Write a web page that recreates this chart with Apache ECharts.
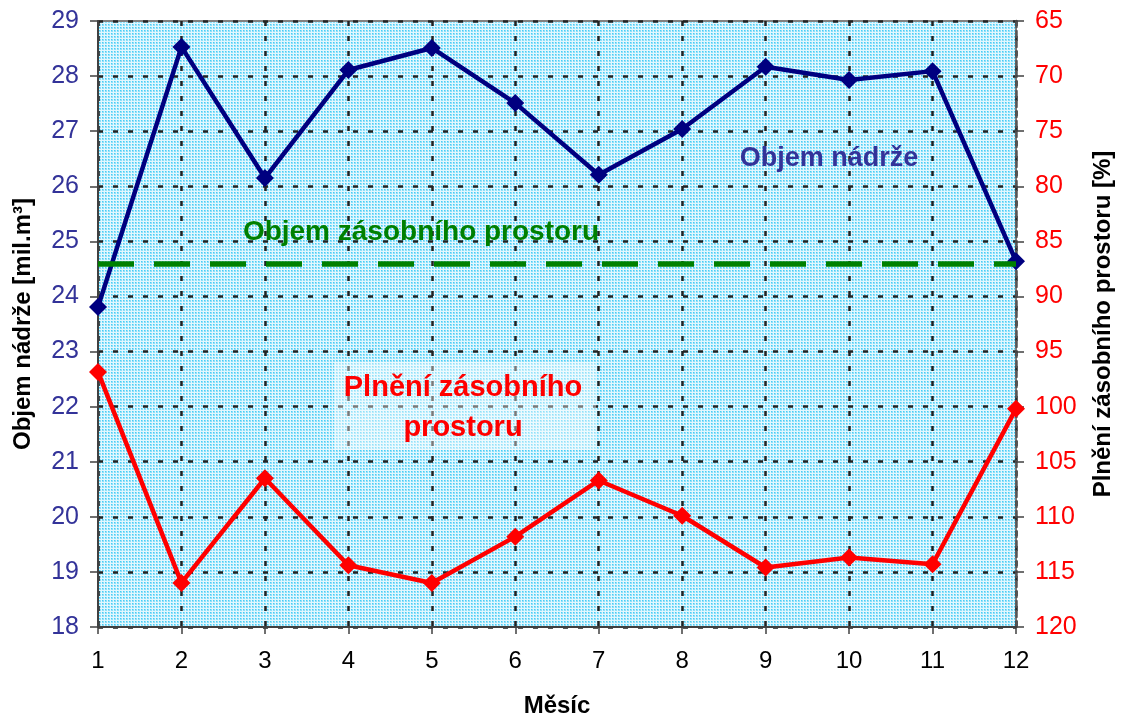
<!DOCTYPE html>
<html><head><meta charset="utf-8">
<script src="https://cdn.jsdelivr.net/npm/echarts@6/dist/echarts.min.js"></script>
<style>html,body{margin:0;padding:0;background:#fff}#c{width:1125px;height:719px}</style>
</head><body><div id="c"></div>
<script>
const months = [1,2,3,4,5,6,7,8,9,10,11,12];
const objemNadrze = [23.81,28.53,26.15,28.11,28.51,27.51,26.21,27.04,28.17,27.93,28.09,24.64];
const plneni = [96.85,116.0,106.5,114.4,116.0,111.8,106.7,109.9,114.6,113.7,114.3,100.2];
const objemZasobnihoProstoru = 24.6;
const leftTicks = {min:18, max:29, interval:1};
const rightTicks = {min:65, max:120, interval:5};

const pc = document.createElement('canvas');
pc.width = 3; pc.height = 3;
const g = pc.getContext('2d');
g.fillStyle = '#e2f7fe'; g.fillRect(0,0,3,3);
g.fillStyle = '#8fdff8';
g.fillRect(0,0,2,2);
g.fillStyle = '#45cdf7';
g.fillRect(0,0,1,1);

const FONT = 'Liberation Sans, Arial, sans-serif';
const chart = echarts.init(document.getElementById('c'), null, {renderer:'canvas'});
const gridLine = {show:true, lineStyle:{color:'#222', width:2.5, type:[5,10]}};
chart.setOption({
  animation:false,
  grid:{left:98, right:109, top:21, bottom:92, outerBoundsMode:'none', containLabel:false, show:true, backgroundColor:{image:pc, repeat:'repeat'}, borderColor:'#808080', borderWidth:2},
  xAxis:{type:'value', min:1, max:12, interval:1,
    name:'Měsíc', nameLocation:'middle', nameGap:67,
    nameTextStyle:{fontFamily:FONT, fontWeight:'bold', fontSize:24, color:'#000'},
    axisLine:{lineStyle:{color:'#404040', width:2}},
    axisTick:{show:true, length:7, lineStyle:{color:'#404040', width:1.5}},
    axisLabel:{fontFamily:FONT, fontSize:24, color:'#000', margin:22},
    splitLine:gridLine},
  yAxis:[
    {type:'value', position:'left', min:leftTicks.min, max:leftTicks.max, interval:leftTicks.interval,
      name:'Objem nádrže [mil.m³]', nameLocation:'middle', nameGap:63, nameRotate:90,
      nameTextStyle:{fontFamily:FONT, fontWeight:'bold', fontSize:24, color:'#000'},
      axisLine:{show:true, lineStyle:{color:'#404040', width:2}},
      axisTick:{show:true, length:8, lineStyle:{color:'#404040', width:1.5}},
      axisLabel:{fontFamily:FONT, fontSize:25, color:'#333399', margin:19},
      splitLine:gridLine},
    {type:'value', position:'right', inverse:true, min:rightTicks.min, max:rightTicks.max, interval:rightTicks.interval,
      name:'Plnění zásobního prostoru [%]', nameLocation:'middle', nameGap:75, nameRotate:90,
      nameTextStyle:{fontFamily:FONT, fontWeight:'bold', fontSize:24, color:'#000'},
      axisLine:{show:true, lineStyle:{color:'#555', width:2.5, type:[6,4]}},
      axisTick:{show:true, length:8, lineStyle:{color:'#404040', width:1.5}},
      axisLabel:{fontFamily:FONT, fontSize:25, color:'#ff0000', margin:19},
      splitLine:{show:false}}
  ],
  series:[
    {type:'line', yAxisIndex:0, data:months.map((m,i)=>[m,objemNadrze[i]]),
      symbol:'diamond', symbolSize:18, lineStyle:{color:'#000080', width:4.5}, itemStyle:{color:'#000080'},
      markLine:{silent:true, symbol:'none', label:{show:false},
        lineStyle:{color:'#008000', width:5.5, type:[36,20]},
        data:[{yAxis:objemZasobnihoProstoru}]}},
    {type:'line', yAxisIndex:1, data:months.map((m,i)=>[m,plneni[i]]),
      symbol:'diamond', symbolSize:18, lineStyle:{color:'#ff0000', width:4.5}, itemStyle:{color:'#ff0000'}}
  ],
  graphic:[
    {type:'rect', x:334, y:362, shape:{width:262, height:88}, style:{fill:'rgba(255,255,255,0.4)'}, z:5},
    {type:'text', style:{text:'Plnění zásobního', textAlign:'center', textVerticalAlign:'middle', fill:'#ff0000', font:'bold 29px '+FONT}, x:463, y:388, z:6},
    {type:'text', style:{text:'prostoru', textAlign:'center', textVerticalAlign:'middle', fill:'#ff0000', font:'bold 29px '+FONT}, x:463, y:428, z:6},
    {type:'text', style:{text:'Objem zásobního prostoru', textAlign:'center', textVerticalAlign:'middle', fill:'#008000', font:'bold 28px '+FONT}, x:421, y:232, z:6},
    {type:'text', style:{text:'Objem nádrže', textAlign:'center', textVerticalAlign:'middle', fill:'#333399', font:'bold 27px '+FONT}, x:829, y:159, z:6}
  ]
});
</script></body></html>
